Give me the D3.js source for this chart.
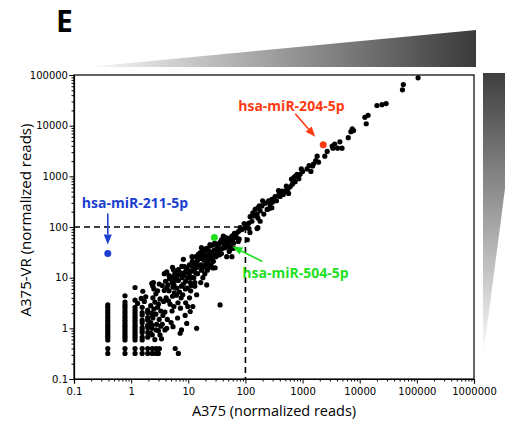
<!DOCTYPE html>
<html>
<head>
<meta charset="utf-8">
<script src="https://cdn.jsdelivr.net/npm/d3@7"></script>
<style>
  body { margin: 0; background: #fff; }
  svg { display: block; }
  .tick text { font-family: "DejaVu Sans", sans-serif; font-size: 10px; fill: #000; }
  .axis path, .axis line { stroke: #000; }
</style>
</head>
<body>
<svg id="chart" width="505" height="427"></svg>
<script>
// low read-count columns (A375 value -> list of A375-VR values)
const columnX = [0.39, 0.78, 1.17, 1.56, 1.95, 2.34, 2.73, 3.12];
const columnY = [
  [0.32, 0.40, 0.59, 0.67, 0.74, 0.83, 0.93, 1.04, 1.15, 1.29, 1.45, 1.63, 1.83, 2.05, 2.3, 2.6, 2.9],
  [0.32, 0.40, 0.59, 0.67, 0.74, 0.83, 0.93, 1.04, 1.15, 1.29, 1.45, 1.63, 1.83, 2.05, 2.3, 2.6, 2.9, 3.3, 4.4],
  [0.32, 0.40, 0.59, 0.67, 0.74, 0.83, 0.93, 1.04, 1.15, 1.29, 1.45, 1.63, 1.83, 2.05, 2.3, 2.6, 3.6, 6.4],
  [0.32, 0.40, 0.59, 0.67, 0.83, 0.93, 1.04, 1.29, 1.45, 1.83, 2.05, 2.6],
  [0.32, 0.40, 0.67, 0.83, 1.04, 1.15, 1.45, 1.63, 2.05, 2.3],
  [0.32, 0.40, 0.74, 1.15, 1.83],
  [0.32, 0.40, 0.93],
  [0.40]
];

// remaining miRNAs [A375, A375-VR]
const cloud = [
  [1.6,5.4],[1.5,3.9],[1.8,4.2],[1.7,3.4],[1.3,3.1],
  [2.2,0.8],[2.3,1.0],[2.2,1.3],[2.4,1.6],[2.3,2.0],[2.5,2.4],[2.2,2.8],[2.6,3.3],[2.4,4.0],[2.7,4.8],[2.5,6.0],
  [2.8,1.2],[2.7,1.9],[2.9,2.6],[3.0,0.9],[3.1,1.5],[3.0,3.0],[3.2,3.8],[2.9,5.5],[3.1,7.5],[3.3,2.2],[3.3,1.1],
  [2.6,0.6],[3.4,0.62],[3.2,0.74],[3.0,0.32],[2.45,8.0],[2.3,7.7],[2.4,6.8],
  [3.5,1.2],[3.6,1.8],[3.7,3.4],[3.8,5.6],[3.5,7.0],[3.9,2.1],[4.1,4.0],[4.2,6.3],[4.0,8.5],[4.3,1.5],[4.5,3.5],
  [4.6,5.5],[4.4,7.2],[4.7,9.5],[4.8,3.0],[4.6,11],[3.8,12],[4.2,1.0],[3.9,0.93],[4.2,13],[4.8,10.5],
  [5.0,1.3],[5.2,2.2],[5.3,4.3],[5.4,6.5],[5.2,8.0],[5.5,10],[5.6,2.7],[5.7,5.0],[5.6,7.4],[6.0,9.0],[5.8,11.5],
  [6.2,4.5],[6.3,6.2],[6.2,10],[6.5,1.6],[6.6,3.2],[6.7,8.8],[7.0,5.2],[6.9,11.5],[5.9,12.5],[6.7,14.5],[5.9,0.40],
  [6.7,0.32],[5.4,1.08],[5.5,14.3],[5.3,16],
  [7.3,2.5],[7.5,4.0],[7.6,6.8],[7.8,10],[7.4,12.5],[8.0,4.6],[8.2,7.5],[8.4,11],[8.6,16.5],[8.2,23],[7.7,16.7],
  [8.9,6.0],[9.0,8.5],[8.9,13],[9.3,15.5],[9.6,6.2],[9.8,10],[10,14],[10.4,12],[10.5,18],[10.8,8],[9.4,1.25],
  [8.8,1.8],[7.6,0.93],[7.2,0.8],[10.8,2.15],[9.0,3.2],[10.5,4.0],[9.8,2.7],
  [11,5.5],[11.3,7.0],[11.5,10],[11.6,13.5],[11.4,17],[11.8,21],[11.6,26],[12,2.7],[12.5,10],[12.6,15],[12.8,19],
  [13,8],[13.5,12.5],[13.8,20],[13.6,26],[14,4.6],[14.5,12],[14.3,16],[14.6,22],[15,29],[15.5,17],[15.8,24],
  [14,1.0],[13,6.8],[16,31],[13.2,15.5],
  [16.5,8],[17,14],[16.6,18],[17,24],[17.5,29],[17.8,35],[18,10],[18.5,16],[18.8,22],[18.6,28],[19,33],[19.5,12],
  [20,18],[20.3,25],[20.8,38],[21,7.2],[21.5,14],[22,20],[22.3,28],[22.6,34],[23,16],[23.5,23],[24,30],[24,42],
  [17,39],[24,45],
  [25,18],[26,26],[25.8,32],[26.6,44],[27,15.5],[27.5,21],[28,28],[28.5,35],[29,48],[29.5,15.7],[30.5,26],[31,36],
  [31.5,43],[32.5,30],[33.5,39],[34,46],[34.5,28],[35.5,36],[36,50],[36,2.9],[36,29],[34,33],
  [41,53],[47,56],[50,45],[44,39],[38,30],[54,36],[47,26],[58,26],[66,68],[58,66],[50,60],[54,52],[44,48],[62,48],
  [50,42],[38,56],[41,66],[55,40],[60,57],[64,75],[45,62],[42,45],[52,33],[62,38],[48,50],[40,38],[54,56],[70,62],
  [75,52],[78,58],
  [81,97],[87,89],[76,82],[71,77],[95,117],[100,97],[108,112],[115,120],[115,93],[108,56],[121,160],[130,130],
  [140,165],[148,222],[160,177],[165,150],[165,97],[160,93],[181,130],[165,240],[181,210],[195,260],[200,330],
  [222,295],[240,222],[255,330],[270,280],[290,240],[290,350],[330,400],[375,415],[405,400],[435,510],
  [120,78],[135,190],[175,260],[210,180],[260,230],[300,310],[350,330],[380,520],[520,640],
  [405,440],[460,440],[440,500],[495,510],[540,555],[550,560],[570,460],[605,620],[660,700],[640,880],[680,880],
  [740,780],[710,950],[740,1000],[800,1100],[840,1000],[860,900],[905,1100],[950,1400],[1000,1250],[1200,1400],
  [1300,1630],[1400,1250],[1500,1600],[1550,1750],[1700,2050],[1800,2500],[1900,1900],[2450,2500],[2700,3100],
  [3300,3950],[3400,3600],[3650,4350],[4100,3600],[4500,4800],[4900,3600],[6300,5800],[7000,7600],[7400,8700],
  [7800,8000],[12300,14600],[13000,10900],[14000,16000],[20000,25000],[24500,26000],[29000,27300],[56000,51000],
  [58000,65000],[105000,88000]
];

// highlighted miRNAs
const mirNames = ["hsa-miR-211-5p", "hsa-miR-204-5p", "hsa-miR-504-5p"];
const mirA375 = [0.39, 2300, 28.6];
const mirVR = [30, 4200, 62];
const mirColors = ["#1b3fd0", "#ff3a12", "#1ee01e"];

const thresholdX = 100, thresholdY = 100;
const decades = [0.1, 1, 10, 100, 1000, 10000, 100000, 1000000];

const svg = d3.select("#chart");
const mLeft = 74, mRight = 474, mTop = 75, mBottom = 379;

const x = d3.scaleLog().domain([0.1, 1000000]).range([mLeft, mRight]);
const y = d3.scaleLog().domain([0.1, 100000]).range([mBottom, mTop]);

// gradient wedges
const defs = svg.append("defs");
const gh = defs.append("linearGradient").attr("id", "gh").attr("x1", 0).attr("x2", 1).attr("y1", 0).attr("y2", 0);
gh.append("stop").attr("offset", 0).attr("stop-color", "#fafafa");
gh.append("stop").attr("offset", 1).attr("stop-color", "#3a3a3a");
const gv = defs.append("linearGradient").attr("id", "gv").attr("x1", 0).attr("x2", 0).attr("y1", 0).attr("y2", 1);
gv.append("stop").attr("offset", 0).attr("stop-color", "#3e3e3e");
gv.append("stop").attr("offset", 1).attr("stop-color", "#ffffff");

svg.append("polygon").attr("points", "88,67 476,30 476,67").attr("fill", "url(#gh)");
svg.append("polygon").attr("points", "483,73 520,73 483,358").attr("fill", "url(#gv)");

svg.append("text").attr("x", 56).attr("y", 32)
  .style("font-family", "'Open Sans', sans-serif").style("font-weight", 700).style("font-size", "30px")
  .text("E");

// axes
const fmt = d => d < 1 ? "0.1" : d3.format("d")(d);
const minor = x.ticks().filter(d => decades.indexOf(d) < 0);
const minorY = y.ticks().filter(d => decades.indexOf(d) < 0);

svg.append("g").attr("class", "axis").attr("transform", `translate(0,${mBottom})`)
  .call(d3.axisBottom(x).tickValues(minor).tickSize(2.5).tickFormat(""))
  .call(g => g.select(".domain").remove());
svg.append("g").attr("class", "axis").attr("transform", `translate(0,${mBottom})`)
  .call(d3.axisBottom(x).tickValues(decades).tickSize(4.5).tickPadding(4).tickFormat(fmt));

svg.append("g").attr("class", "axis").attr("transform", `translate(${mLeft},0)`)
  .call(d3.axisLeft(y).tickValues(minorY).tickSize(2.5).tickFormat(""))
  .call(g => g.select(".domain").remove());
svg.append("g").attr("class", "axis").attr("transform", `translate(${mLeft},0)`)
  .call(d3.axisLeft(y).tickValues(decades.slice(0, 7)).tickSize(4.5).tickPadding(1.5).tickFormat(fmt));

svg.selectAll(".axis .domain").attr("stroke-width", 1.2);

svg.append("rect").attr("x", mLeft).attr("y", mTop).attr("width", mRight - mLeft).attr("height", mBottom - mTop)
  .attr("fill", "none").attr("stroke", "#000").attr("stroke-width", 1.2);

// threshold dashed lines
svg.append("path")
  .attr("d", `M${x(0.1)},${y(thresholdY)}H${x(thresholdX)}M${x(thresholdX)},${y(thresholdY)}V${y(0.1)}`)
  .attr("fill", "none").attr("stroke", "#000").attr("stroke-width", 1.6).attr("stroke-dasharray", "6,4");

// points
const lowPoints = columnX.flatMap((cx, i) => columnY[i].map(v => [cx, v]));
svg.append("g").selectAll("circle")
  .data(lowPoints.concat(cloud))
  .join("circle")
    .attr("cx", d => x(d[0]))
    .attr("cy", d => y(d[1]))
    .attr("r", 2.6)
    .attr("fill", "#000");

svg.append("g").selectAll("circle")
  .data(mirNames)
  .join("circle")
    .attr("cx", (d, i) => x(mirA375[i]))
    .attr("cy", (d, i) => y(mirVR[i]))
    .attr("r", 3.5)
    .attr("fill", (d, i) => mirColors[i]);

// labels and arrows: [text dx, text dy, tail dx, tail dy, tip dx, tip dy] relative to point
const place = [
  [-26, -45, 0, -40, 0, -9],
  [-85, -34, -28, -31, -8, -8],
  [28, 40, 48, 24, 18, 9]
];

function arrow(x1, y1, x2, y2, color) {
  const a = Math.atan2(y2 - y1, x2 - x1), L = 10, W = 4;
  const bx = x2 - L * Math.cos(a), by = y2 - L * Math.sin(a);
  svg.append("line").attr("x1", x1).attr("y1", y1).attr("x2", bx).attr("y2", by)
    .attr("stroke", color).attr("stroke-width", 1.6);
  svg.append("polygon")
    .attr("points", [[x2, y2], [bx + W * Math.sin(a), by - W * Math.cos(a)], [bx - W * Math.sin(a), by + W * Math.cos(a)]].join(" "))
    .attr("fill", color);
}

mirNames.forEach((name, i) => {
  const px = x(mirA375[i]), py = y(mirVR[i]), p = place[i];
  svg.append("text").attr("x", px + p[0]).attr("y", py + p[1])
    .style("font-family", "'Open Sans', sans-serif").style("font-weight", 700).style("font-size", "14px")
    .attr("fill", mirColors[i]).text(name);
  arrow(px + p[2], py + p[3], px + p[4], py + p[5], mirColors[i]);
});

// axis titles
svg.append("text").attr("x", (mLeft + mRight) / 2).attr("y", 416).attr("text-anchor", "middle")
  .style("font-family", "'Open Sans', sans-serif").style("font-size", "14.5px")
  .text("A375 (normalized reads)");
svg.append("text").attr("transform", `translate(31,${(mTop + mBottom) / 2 - 7}) rotate(-90)`).attr("text-anchor", "middle")
  .style("font-family", "'Open Sans', sans-serif").style("font-size", "15px")
  .text("A375-VR (normalized reads)");
</script>
</body>
</html>
